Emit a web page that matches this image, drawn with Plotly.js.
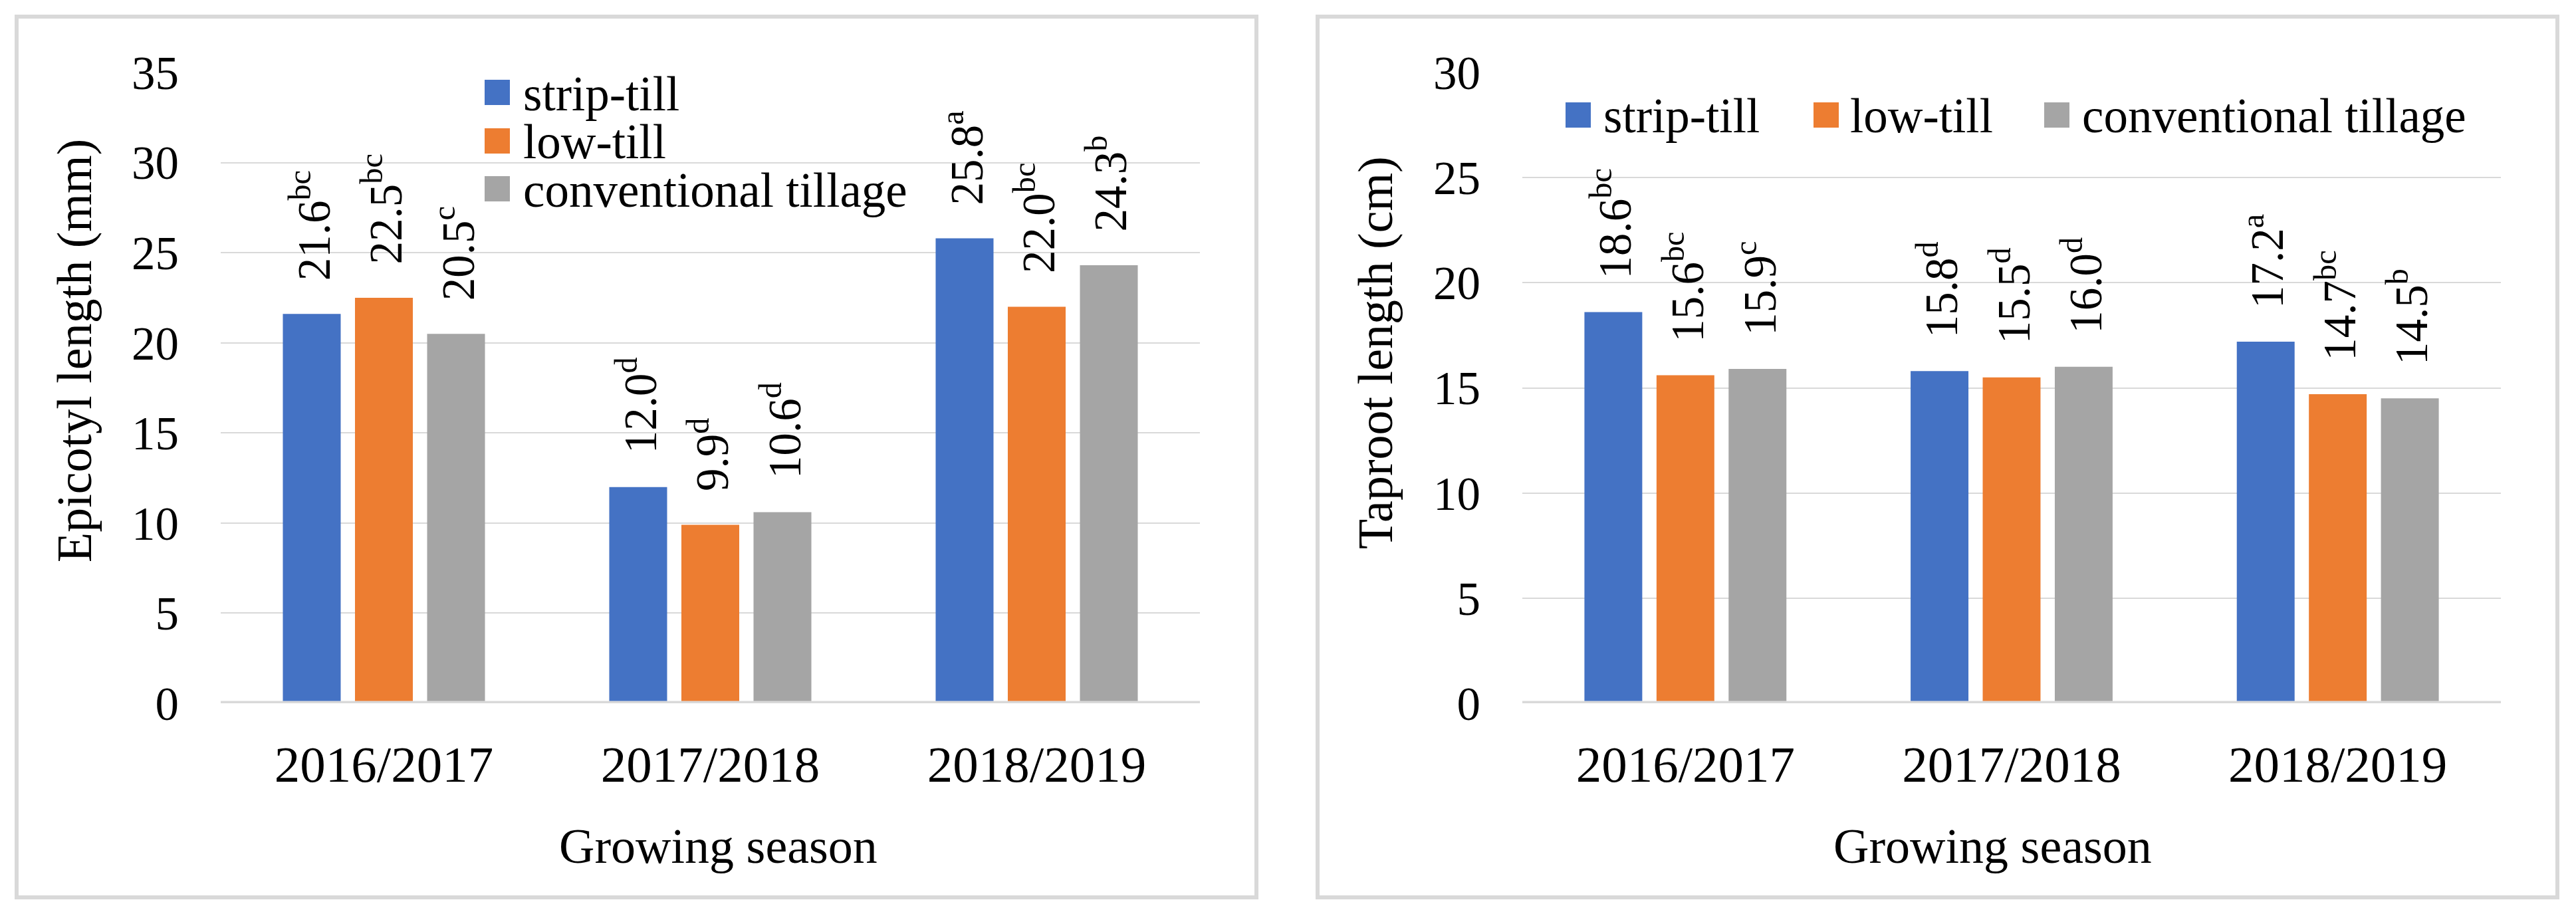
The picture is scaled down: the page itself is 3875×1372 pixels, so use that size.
<!DOCTYPE html>
<html>
<head>
<meta charset="utf-8">
<script src="https://cdn.plot.ly/plotly-3.0.1.min.js"></script>
<style>
html,body{margin:0;padding:0;background:#ffffff;}
#chart{width:3875px;height:1372px;}
</style>
</head>
<body>
<div id="chart"></div>
<script>
// ---------- data ----------
const categories = ['2016/2017', '2017/2018', '2018/2019'];
const seriesNames = ['strip-till', 'low-till', 'conventional tillage'];
const seriesColors = ['#4472c4', '#ed7d31', '#a5a5a5'];

const epicotylStrip = [21.6, 12.0, 25.8];
const epicotylLow = [22.5, 9.9, 22.0];
const epicotylConv = [20.5, 10.6, 24.3];
const epicotylStripLetters = ['bc', 'd', 'a'];
const epicotylLowLetters = ['bc', 'd', 'bc'];
const epicotylConvLetters = ['c', 'd', 'b'];

const taprootStrip = [18.6, 15.8, 17.2];
const taprootLow = [15.6, 15.5, 14.7];
const taprootConv = [15.9, 16.0, 14.5];
const taprootStripLetters = ['bc', 'd', 'a'];
const taprootLowLetters = ['bc', 'd', 'bc'];
const taprootConvLetters = ['c', 'd', 'b'];

const epicotylTitle = 'Epicotyl length (mm)';
const taprootTitle = 'Taproot length (cm)';
const xTitle = 'Growing season';

// ---------- layout helpers ----------
const W = 3875, H = 1372;
const px = x => x / W;
const py = y => 1 - y / H;
const FONT = 'Liberation Serif, Times New Roman, serif';

const panels = [
  {xa: 'x', ya: 'y', series: [epicotylStrip, epicotylLow, epicotylConv],
   letters: [epicotylStripLetters, epicotylLowLetters, epicotylConvLetters]},
  {xa: 'x2', ya: 'y2', series: [taprootStrip, taprootLow, taprootConv],
   letters: [taprootStripLetters, taprootLowLetters, taprootConvLetters]}
];

const traces = [];
const annotations = [];
const slotPx = 108.5;

panels.forEach(p => {
  p.series.forEach((vals, s) => {
    traces.push({
      type: 'bar', x: categories, y: vals, name: seriesNames[s],
      xaxis: p.xa, yaxis: p.ya, showlegend: false,
      marker: {color: seriesColors[s], line: {width: 0}},
      hoverinfo: 'skip'
    });
    vals.forEach((v, c) => {
      annotations.push({
        xref: p.xa, yref: p.ya, x: categories[c], y: v,
        xshift: (s - 1) * slotPx - 2, yshift: 48,
        xanchor: 'center', yanchor: 'bottom', textangle: -90,
        showarrow: false,
        text: v.toFixed(1) + '<sup>' + p.letters[s][c] + '</sup>',
        font: {family: FONT, size: 69, color: '#000000'}
      });
    });
  });
});

// axis titles
annotations.push({xref: 'paper', yref: 'paper', x: px(112), y: py(528), textangle: -90,
  xanchor: 'center', yanchor: 'middle', showarrow: false, text: epicotylTitle,
  font: {family: FONT, size: 74, color: '#000'}});
annotations.push({xref: 'paper', yref: 'paper', x: px(2069), y: py(531), textangle: -90,
  xanchor: 'center', yanchor: 'middle', showarrow: false, text: taprootTitle,
  font: {family: FONT, size: 74, color: '#000'}});
annotations.push({xref: 'paper', yref: 'paper', x: px(1080), y: py(1273),
  xanchor: 'center', yanchor: 'middle', showarrow: false, text: xTitle,
  font: {family: FONT, size: 74, color: '#000'}});
annotations.push({xref: 'paper', yref: 'paper', x: px(2997), y: py(1273),
  xanchor: 'center', yanchor: 'middle', showarrow: false, text: xTitle,
  font: {family: FONT, size: 74, color: '#000'}});

// custom legends (large square keys)
const shapes = [];
const legL = {x0: 729, cy: [139, 212, 284], tx: 785};
seriesNames.forEach((n, i) => {
  shapes.push({type: 'rect', xref: 'paper', yref: 'paper', x0: px(legL.x0), x1: px(legL.x0 + 38),
    y0: py(legL.cy[i] + 19), y1: py(legL.cy[i] - 19), fillcolor: seriesColors[i], line: {width: 0}});
  annotations.push({xref: 'paper', yref: 'paper', x: px(legL.tx), y: py(legL.cy[i] + 2),
    xanchor: 'left', yanchor: 'middle', showarrow: false, text: n,
    font: {family: FONT, size: 73, color: '#000'}});
});
const legR = {x0: [2355, 2728, 3075], cy: 173, tx: [2410, 2781, 3130]};
seriesNames.forEach((n, i) => {
  shapes.push({type: 'rect', xref: 'paper', yref: 'paper', x0: px(legR.x0[i]), x1: px(legR.x0[i] + 38),
    y0: py(legR.cy + 19), y1: py(legR.cy - 19), fillcolor: seriesColors[i], line: {width: 0}});
  annotations.push({xref: 'paper', yref: 'paper', x: px(legR.tx[i]), y: py(legR.cy + 2),
    xanchor: 'left', yanchor: 'middle', showarrow: false, text: n,
    font: {family: FONT, size: 73, color: '#000'}});
});

// panel borders
shapes.push({type: 'rect', xref: 'paper', yref: 'paper', x0: px(25), x1: px(1890), y0: py(1350), y1: py(25),
  line: {color: '#d9d9d9', width: 6}, fillcolor: 'rgba(0,0,0,0)', layer: 'below'});
shapes.push({type: 'rect', xref: 'paper', yref: 'paper', x0: px(1982), x1: px(3847), y0: py(1350), y1: py(25),
  line: {color: '#d9d9d9', width: 6}, fillcolor: 'rgba(0,0,0,0)', layer: 'below'});
// baseline (zero) lines above bars
shapes.push({type: 'line', xref: 'x domain', yref: 'y', x0: 0, x1: 1, y0: 0, y1: 0,
  line: {color: '#d9d9d9', width: 7}});
shapes.push({type: 'line', xref: 'x2 domain', yref: 'y2', x0: 0, x1: 1, y0: 0, y1: 0,
  line: {color: '#d9d9d9', width: 7}});

const xAxisBase = {
  type: 'category', showgrid: false, zeroline: false, showline: false, ticks: '',
  tickfont: {family: FONT, size: 77, color: '#000'}, ticklabelstandoff: 40, fixedrange: true
};
const yAxisBase = {
  showgrid: true, gridcolor: '#d9d9d9', gridwidth: 2, zeroline: false, showline: false,
  ticks: '', dtick: 5, tick0: 0, tickfont: {family: FONT, size: 71, color: '#000'},
  ticklabelstandoff: 62, fixedrange: true
};

const layout = {
  width: W, height: H,
  margin: {l: 0, r: 0, t: 0, b: 0, pad: 0},
  paper_bgcolor: '#ffffff', plot_bgcolor: '#ffffff',
  showlegend: false,
  barmode: 'group', bargap: 0.337, bargroupgap: 0.198,
  xaxis: Object.assign({}, xAxisBase, {domain: [px(332), px(1805)], anchor: 'y'}),
  yaxis: Object.assign({}, yAxisBase, {domain: [py(1058), py(109)], range: [0, 35], anchor: 'x'}),
  xaxis2: Object.assign({}, xAxisBase, {domain: [px(2290), px(3762)], anchor: 'y2'}),
  yaxis2: Object.assign({}, yAxisBase, {domain: [py(1058), py(109)], range: [0, 30], anchor: 'x2'}),
  annotations: annotations,
  shapes: shapes,
  font: {family: FONT, color: '#000'}
};

Plotly.newPlot('chart', traces, layout, {staticPlot: true, displayModeBar: false});
</script>
</body>
</html>
